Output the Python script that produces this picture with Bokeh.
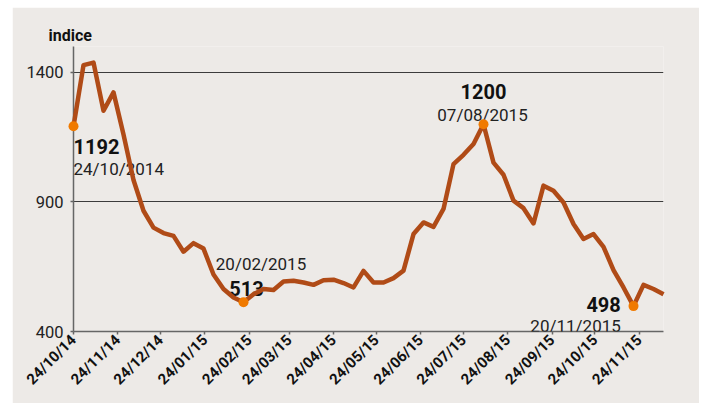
import math
import pandas as pd
from bokeh.plotting import figure
from bokeh.layouts import row, column
from bokeh.models import ColumnDataSource, FixedTicker, DatetimeTickFormatter, Range1d, Label, Spacer
from bokeh.embed import file_html
from bokeh.resources import INLINE

# ---- data (weekly index, Fridays) ----
start_date = "2014-10-24"
values = [1192, 1428, 1438, 1252, 1323, 1160, 985, 866, 801, 780,
          769, 708, 741, 720, 620, 564, 531, 513, 544, 564,
          560, 593, 596, 589, 580, 598, 600, 587, 570, 634,
          589, 589, 606, 635, 776, 821, 804, 873, 1046, 1082,
          1124, 1200, 1052, 1005, 905, 876, 817, 963, 943, 898,
          815, 757, 776, 727, 637, 570, 498, 580, 564, 544]
tick_dates = ["2014-10-24", "2014-11-24", "2014-12-24", "2015-01-24", "2015-02-24",
              "2015-03-24", "2015-04-24", "2015-05-24", "2015-06-24", "2015-07-24",
              "2015-08-24", "2015-09-24", "2015-10-24", "2015-11-24"]
y_ticks = [400, 900, 1400]
grid_ticks = [900, 1400]
ann_dates = ["2014-10-24", "2015-02-20", "2015-08-07", "2015-11-20"]
ann_values = [1192, 513, 1200, 498]
ann_date_labels = ["24/10/2014", "20/02/2015", "07/08/2015", "20/11/2015"]
y_title = "indice"

dates = pd.date_range(start=start_date, periods=len(values), freq="7D")
def ms(d):
    return pd.Timestamp(d).value / 1e6

BG = "#edeae7"
LINE = "#b04b17"
DOT = "#f07a00"

p = figure(width=687, height=396, x_axis_type="datetime",
           output_backend="svg", toolbar_location=None,
           x_range=Range1d(ms(dates[0]), ms(dates[-1])), y_range=Range1d(400, 1500),
           min_border_left=61, min_border_right=36, min_border_top=39, min_border_bottom=72,
           background_fill_color=BG, border_fill_color=BG, outline_line_color=None)

p.title.text = y_title
p.title.align = "left"
p.title.offset = -25
p.title.standoff = 3
p.title.text_font = "Roboto"
p.title.text_font_style = "bold"
p.title.text_font_size = "16px"
p.title.text_color = "#111111"

# axes
fmt = "%d/%m/%y"
p.xaxis.ticker = FixedTicker(ticks=[ms(d) for d in tick_dates])
p.xaxis.formatter = DatetimeTickFormatter(microseconds=fmt, milliseconds=fmt, seconds=fmt,
                                          minsec=fmt, minutes=fmt, hourmin=fmt, hours=fmt,
                                          days=fmt, months=fmt, years=fmt)
p.xaxis.major_label_orientation = math.pi / 4
p.xaxis.major_label_text_font = "Roboto"
p.xaxis.major_label_text_font_style = "bold"
p.xaxis.major_label_text_font_size = "15px"
p.xaxis.major_label_text_color = "#111111"
p.xaxis.major_label_standoff = 3

p.yaxis.ticker = FixedTicker(ticks=y_ticks)
p.yaxis.major_label_text_font = "Roboto"
p.yaxis.major_label_text_font_size = "16.5px"
p.yaxis.major_label_text_color = "#222222"
p.yaxis.major_label_standoff = 7

for ax in (p.xaxis, p.yaxis):
    ax.axis_line_color = "#666666"
    ax.axis_line_width = 1.5
    ax.major_tick_line_color = "#666666"
    ax.major_tick_line_width = 1.5
    ax.major_tick_in = 0
    ax.major_tick_out = 3
    ax.minor_tick_line_color = None

p.xgrid.visible = False
p.ygrid.ticker = FixedTicker(ticks=grid_ticks)
p.ygrid.grid_line_color = "#3c3c3c"
p.ygrid.grid_line_width = 1

src = ColumnDataSource(data=dict(date=list(dates), value=values))
p.line(x="date", y="value", source=src, line_color=LINE, line_width=4.5,
       line_join="round", level="overlay")

ann_src = ColumnDataSource(data=dict(date=[pd.Timestamp(d) for d in ann_dates], value=ann_values))
p.scatter(x="date", y="value", source=ann_src, size=10, fill_color=DOT,
          line_color=None, level="overlay")

# annotation placement (pixels): (num dx, num dy, date dx, date dy, align)
placement = [
    (0, -19.7, 0, -42.7, "left"),
    (3, 13.4, 17.5, 38.4, "center"),
    (0, 32.7, -1, 9.3, "center"),
    (-12.7, 1.7, -12.7, -20, "right"),
]
for d, v, lab, (ndx, ndy, ddx, ddy, al) in zip(ann_dates, ann_values, ann_date_labels, placement):
    p.add_layout(Label(x=ms(d), y=v, text=str(v), x_offset=ndx, y_offset=ndy,
                       text_align=al, text_baseline="alphabetic",
                       text_font="Roboto", text_font_style="bold",
                       text_font_size="20px", text_color="#111111"))
    p.add_layout(Label(x=ms(d), y=v, text=lab, x_offset=ddx, y_offset=ddy,
                       text_align=al, text_baseline="alphabetic",
                       text_font="Roboto", text_font_size="17px", text_color="#222222"))

layout = row(Spacer(width=12), column(Spacer(height=7), p))
open("out.html", "w").write(file_html(layout, INLINE))
